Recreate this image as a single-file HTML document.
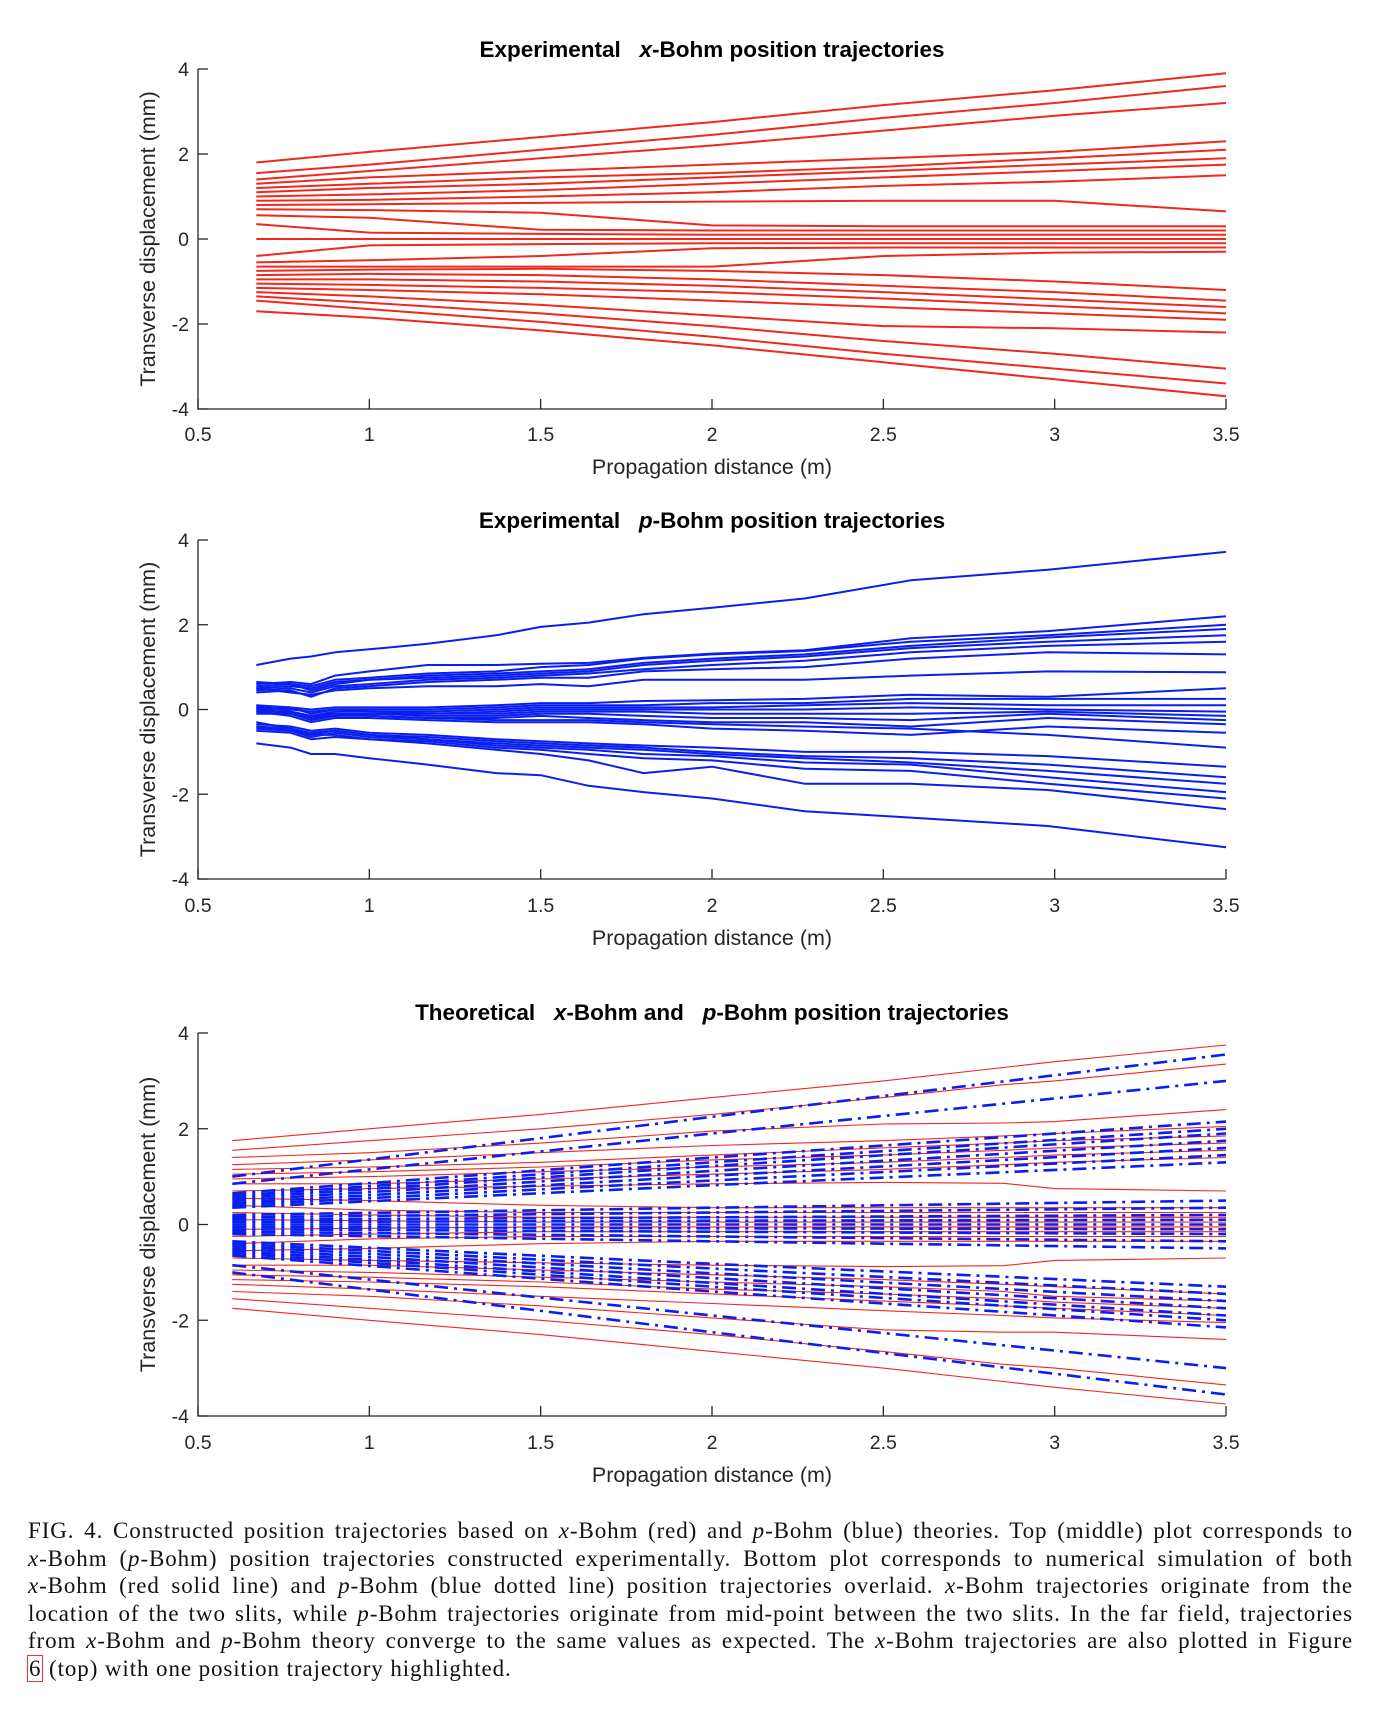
<!DOCTYPE html>
<html><head><meta charset="utf-8"><style>
html,body{margin:0;padding:0;background:#fff;}
#cap{position:absolute;left:28px;top:1517px;width:1325px;font-family:"Liberation Serif",serif;font-size:23px;letter-spacing:0.9px;line-height:27.6px;color:#111;}
#cap div{text-align:justify;text-align-last:justify;white-space:nowrap;}
#cap div.last{text-align-last:left;}
#cap i{font-style:italic;}
.box{outline:1.5px solid #e33;padding:0 1px;}
svg text{white-space:pre;}
</style></head><body>
<svg id="fig" width="1392" height="1726" xmlns="http://www.w3.org/2000/svg" style="position:absolute;left:0;top:0;font-family:'Liberation Sans',sans-serif;"></svg>
<div id="cap">
<div>FIG. 4. Constructed position trajectories based on <i>x</i>-Bohm (red) and <i>p</i>-Bohm (blue) theories. Top (middle) plot corresponds to</div>
<div><i>x</i>-Bohm (<i>p</i>-Bohm) position trajectories constructed experimentally. Bottom plot corresponds to numerical simulation of both</div>
<div><i>x</i>-Bohm (red solid line) and <i>p</i>-Bohm (blue dotted line) position trajectories overlaid. <i>x</i>-Bohm trajectories originate from the</div>
<div>location of the two slits, while <i>p</i>-Bohm trajectories originate from mid-point between the two slits. In the far field, trajectories</div>
<div>from <i>x</i>-Bohm and <i>p</i>-Bohm theory converge to the same values as expected. The <i>x</i>-Bohm trajectories are also plotted in Figure</div>
<div class="last"><span class="box">6</span> (top) with one position trajectory highlighted.</div>
</div>
<script>
const xTicks=[0.5,1,1.5,2,2.5,3,3.5];
const xTickLabels=["0.5","1","1.5","2","2.5","3","3.5"];
const yTicks=[-4,-2,0,2,4];
const yTickLabels=["-4","-2","0","2","4"];

// Top: experimental x-Bohm
const topX=[0.67,1,1.5,2,2.5,3,3.5];
const topLines=[
[1.8,2.05,2.4,2.75,3.15,3.5,3.9],
[1.55,1.75,2.1,2.45,2.85,3.2,3.6],
[1.4,1.6,1.9,2.2,2.55,2.9,3.2],
[1.3,1.45,1.6,1.75,1.9,2.05,2.3],
[1.2,1.3,1.45,1.55,1.7,1.9,2.1],
[1.1,1.2,1.3,1.45,1.6,1.75,1.9],
[1.0,1.05,1.15,1.3,1.45,1.6,1.75],
[0.9,0.92,1.0,1.1,1.25,1.35,1.5],
[0.8,0.82,0.85,0.88,0.9,0.9,0.65],
[0.7,0.68,0.62,0.32,0.3,0.3,0.3],
[0.56,0.5,0.22,0.2,0.2,0.2,0.2],
[0.35,0.15,0.12,0.1,0.1,0.1,0.1],
[0,0,0,0,0,0,0],
[-0.4,-0.15,-0.12,-0.1,-0.1,-0.1,-0.1],
[-0.55,-0.5,-0.4,-0.22,-0.2,-0.2,-0.2],
[-0.65,-0.65,-0.65,-0.65,-0.4,-0.32,-0.3],
[-0.75,-0.72,-0.7,-0.75,-0.85,-1.0,-1.2],
[-0.85,-0.82,-0.85,-0.95,-1.1,-1.25,-1.45],
[-0.95,-0.95,-1.0,-1.1,-1.25,-1.42,-1.6],
[-1.05,-1.08,-1.15,-1.25,-1.4,-1.58,-1.75],
[-1.15,-1.2,-1.3,-1.45,-1.6,-1.75,-1.9],
[-1.25,-1.35,-1.55,-1.8,-2.05,-2.1,-2.2],
[-1.35,-1.5,-1.75,-2.05,-2.4,-2.7,-3.05],
[-1.45,-1.65,-1.95,-2.3,-2.7,-3.05,-3.4],
[-1.7,-1.85,-2.15,-2.5,-2.9,-3.3,-3.7]
];

// Middle: experimental p-Bohm
const midX=[0.67,0.77,0.83,0.9,1.0,1.17,1.37,1.5,1.64,1.8,2.0,2.27,2.58,2.98,3.5];
const midLines=[
[1.05,1.2,1.25,1.35,1.42,1.55,1.75,1.95,2.05,2.25,2.4,2.62,3.05,3.3,3.72],
[0.6,0.65,0.6,0.8,0.9,1.05,1.05,1.08,1.1,1.22,1.32,1.4,1.68,1.85,2.2],
[0.55,0.6,0.55,0.7,0.75,0.85,0.9,1.0,1.05,1.2,1.3,1.38,1.6,1.75,2.0],
[0.5,0.55,0.5,0.65,0.7,0.8,0.85,0.9,0.95,1.1,1.2,1.3,1.5,1.7,1.9],
[0.65,0.6,0.45,0.6,0.7,0.75,0.8,0.85,0.9,1.05,1.15,1.25,1.45,1.6,1.75],
[0.45,0.5,0.4,0.55,0.6,0.7,0.75,0.8,0.85,0.95,1.05,1.15,1.35,1.5,1.6],
[0.4,0.45,0.3,0.5,0.55,0.65,0.7,0.75,0.75,0.9,0.95,1.0,1.2,1.35,1.3],
[0.5,0.4,0.35,0.45,0.5,0.55,0.55,0.6,0.55,0.7,0.7,0.7,0.8,0.9,0.88],
[0.1,0.05,0.0,0.05,0.05,0.05,0.1,0.15,0.15,0.2,0.22,0.25,0.35,0.3,0.5],
[0.05,0.0,-0.05,0.0,0.0,0.0,0.05,0.1,0.1,0.1,0.15,0.15,0.25,0.25,0.25],
[0.0,0.05,-0.1,0.0,-0.05,-0.05,0.0,0.05,0.05,0.05,0.05,0.1,0.15,0.1,0.1],
[-0.05,-0.05,-0.15,-0.05,-0.05,-0.1,-0.05,0.0,0.0,0.0,0.0,0.0,0.05,0.0,-0.05],
[0.05,-0.1,-0.2,-0.1,-0.1,-0.1,-0.1,-0.05,-0.05,-0.05,-0.1,-0.1,-0.1,-0.05,-0.15],
[-0.1,-0.1,-0.25,-0.15,-0.1,-0.15,-0.15,-0.1,-0.1,-0.15,-0.2,-0.2,-0.25,-0.1,-0.25],
[0.1,-0.05,-0.15,-0.1,-0.15,-0.2,-0.2,-0.15,-0.2,-0.25,-0.3,-0.3,-0.4,-0.2,-0.35],
[-0.05,-0.15,-0.3,-0.2,-0.2,-0.25,-0.3,-0.3,-0.3,-0.35,-0.45,-0.5,-0.6,-0.4,-0.55],
[0.0,-0.1,-0.2,-0.15,-0.15,-0.2,-0.25,-0.25,-0.25,-0.3,-0.35,-0.4,-0.45,-0.6,-0.9],
[-0.35,-0.4,-0.5,-0.45,-0.55,-0.6,-0.7,-0.75,-0.8,-0.85,-0.9,-1.0,-1.0,-1.1,-1.35],
[-0.4,-0.45,-0.55,-0.5,-0.6,-0.65,-0.75,-0.8,-0.85,-0.9,-1.0,-1.1,-1.15,-1.3,-1.6],
[-0.3,-0.45,-0.6,-0.5,-0.6,-0.7,-0.8,-0.85,-0.9,-0.95,-1.05,-1.15,-1.25,-1.45,-1.75],
[-0.45,-0.5,-0.65,-0.55,-0.65,-0.7,-0.85,-0.9,-0.95,-1.05,-1.1,-1.25,-1.3,-1.6,-1.95],
[-0.4,-0.5,-0.6,-0.6,-0.7,-0.75,-0.9,-0.95,-1.05,-1.15,-1.2,-1.4,-1.45,-1.75,-2.1],
[-0.5,-0.55,-0.7,-0.65,-0.7,-0.8,-0.95,-1.05,-1.2,-1.5,-1.35,-1.75,-1.75,-1.9,-2.35],
[-0.8,-0.9,-1.05,-1.05,-1.15,-1.3,-1.5,-1.55,-1.8,-1.95,-2.1,-2.4,-2.55,-2.75,-3.25]
];

// Bottom: theoretical
const botRedX=[0.6,1,1.5,2,2.5,2.85,3.0,3.5];
const botRed=[
[1.75,2.0,2.3,2.65,3.0,3.28,3.4,3.75],
[1.55,1.75,2.0,2.3,2.65,2.92,3.0,3.35],
[1.4,1.5,1.7,1.95,2.1,2.12,2.15,2.4],
[1.25,1.35,1.5,1.65,1.75,1.85,1.9,2.05],
[1.15,1.2,1.3,1.45,1.6,1.7,1.75,1.85],
[1.05,1.1,1.2,1.35,1.45,1.55,1.6,1.7],
[0.95,1.0,1.1,1.2,1.3,1.4,1.45,1.55],
[0.85,0.85,0.95,1.05,1.15,1.25,1.3,1.4],
[0.7,0.75,0.8,0.85,0.88,0.86,0.75,0.7],
[0.55,0.5,0.4,0.35,0.35,0.35,0.35,0.35],
[0.4,0.3,0.25,0.25,0.25,0.25,0.25,0.25],
[0.25,0.2,0.15,0.15,0.15,0.15,0.15,0.15],
[0.1,0.08,0.05,0.05,0.05,0.05,0.05,0.05],
[-0.1,-0.08,-0.05,-0.05,-0.05,-0.05,-0.05,-0.05],
[-0.25,-0.2,-0.15,-0.15,-0.15,-0.15,-0.15,-0.15],
[-0.4,-0.3,-0.25,-0.25,-0.25,-0.25,-0.25,-0.25],
[-0.55,-0.5,-0.4,-0.35,-0.35,-0.35,-0.35,-0.35],
[-0.7,-0.75,-0.8,-0.85,-0.88,-0.86,-0.75,-0.7],
[-0.85,-0.85,-0.95,-1.05,-1.15,-1.25,-1.3,-1.45],
[-0.95,-1.0,-1.1,-1.2,-1.3,-1.4,-1.5,-1.6],
[-1.05,-1.1,-1.2,-1.35,-1.45,-1.55,-1.62,-1.75],
[-1.15,-1.2,-1.3,-1.45,-1.6,-1.7,-1.75,-1.9],
[-1.25,-1.35,-1.5,-1.65,-1.8,-1.9,-1.95,-2.05],
[-1.4,-1.5,-1.7,-1.95,-2.2,-2.25,-2.25,-2.4],
[-1.55,-1.75,-2.0,-2.3,-2.65,-2.92,-3.0,-3.35],
[-1.75,-2.0,-2.3,-2.65,-3.0,-3.28,-3.4,-3.75]
];
const botBlueX=[0.6,2.0,3.5];
const botBlue=[
[1.0,2.25,3.55],[0.85,1.9,3.0],
[0.65,1.4,2.15],[0.6,1.3,2.0],[0.55,1.22,1.9],[0.5,1.12,1.75],[0.45,1.02,1.6],[0.4,0.92,1.45],[0.35,0.82,1.3],
[0.2,0.35,0.5],[0.15,0.25,0.35],[0.1,0.15,0.2],[0.05,0.08,0.1],[0,0,0],
[-0.05,-0.08,-0.1],[-0.1,-0.15,-0.2],[-0.15,-0.25,-0.35],[-0.2,-0.35,-0.5],
[-0.35,-0.82,-1.3],[-0.4,-0.92,-1.45],[-0.45,-1.02,-1.6],[-0.5,-1.12,-1.75],[-0.55,-1.22,-1.9],[-0.6,-1.3,-2.0],[-0.65,-1.4,-2.15],
[-0.85,-1.9,-3.0],[-1.0,-2.25,-3.55]
];

const NS="http://www.w3.org/2000/svg";
const svg=document.getElementById('fig');
function mk(tag,attrs,parent){const e=document.createElementNS(NS,tag);for(const k in attrs)e.setAttribute(k,attrs[k]);(parent||svg).appendChild(e);return e;}
const L=198,R=1226;
function makeAxes(top,bottom,titleParts,titleY,tickY,labelY,name){
  const g=mk('g',{});
  
  
  const sx=v=>L+(v-0.5)/3*(R-L);
  const sy=v=>top+(4-v)/8*(bottom-top);
  const t=mk('text',{x:(L+R)/2,y:titleY,'text-anchor':'middle','font-size':22.5,'font-weight':'bold',fill:'#000'},g);
  
  
  titleParts.forEach(p=>{const s=mk('tspan',{},t);if(p.i)s.setAttribute('font-style','italic');s.textContent=p.t;});
  const ax=mk('path',{d:`M${L},${top}V${bottom}H${R}`,stroke:'#262626','stroke-width':1.3,fill:'none'},g);
  
  
  xTicks.forEach((v,i)=>{
    mk('line',{x1:sx(v),x2:sx(v),y1:bottom,y2:bottom-10,stroke:'#262626','stroke-width':1.3},g);
    const tl=mk('text',{x:sx(v),y:tickY,'text-anchor':'middle','font-size':19.5,fill:'#262626'},g);
    
    
    tl.textContent=xTickLabels[i];
  });
  yTicks.forEach((v,i)=>{
    mk('line',{x1:L,x2:L+10,y1:sy(v),y2:sy(v),stroke:'#262626','stroke-width':1.3},g);
    const tl=mk('text',{x:L-9,y:sy(v)+7,'text-anchor':'end','font-size':19.5,fill:'#262626'},g);
    
    
    tl.textContent=yTickLabels[i];
  });
  const xl=mk('text',{x:(L+R)/2,y:labelY,'text-anchor':'middle','font-size':21.5,fill:'#262626'},g);
  
  
  xl.textContent='Propagation distance (m)';
  const cy=(top+bottom)/2;
  const yl=mk('text',{x:155,y:cy,'text-anchor':'middle','font-size':21.5,fill:'#262626',transform:`rotate(-90 155 ${cy})`},g);
  
  
  yl.textContent='Transverse displacement (mm)';
  return {g,sx,sy};
}
function drawLines(a,X,lines,color,width,dash,name){
  lines.forEach(ys=>{
    const d=ys.map((y,i)=>(i?'L':'M')+a.sx(X[i]).toFixed(1)+','+a.sy(y).toFixed(1)).join('');
    const p=mk('path',{d,stroke:color,'stroke-width':width,fill:'none','stroke-linejoin':'round'},a.g);
    if(dash)p.setAttribute('stroke-dasharray',dash);
    
    
  });
}
const a1=makeAxes(69,409,[{t:'Experimental   '},{t:'x',i:1},{t:'-Bohm position trajectories'}],57,441,474,'top-chart');
drawLines(a1,topX,topLines,'#f0281e',2,null,'x-bohm-trajectory');
const a2=makeAxes(540,879,[{t:'Experimental   '},{t:'p',i:1},{t:'-Bohm position trajectories'}],528,912,945,'middle-chart');
drawLines(a2,midX,midLines,'#0a1ef0',2,null,'p-bohm-trajectory');
const a3=makeAxes(1033,1416,[{t:'Theoretical   '},{t:'x',i:1},{t:'-Bohm and   '},{t:'p',i:1},{t:'-Bohm position trajectories'}],1020,1449,1482,'bottom-chart');
drawLines(a3,botRedX,botRed,'#f0281e',1.1,null,'x-bohm-theory-line');
drawLines(a3,botBlueX,botBlue,'#0a1ef0',2.6,'14 6 3 6','p-bohm-theory-line');
</script>
</body></html>
